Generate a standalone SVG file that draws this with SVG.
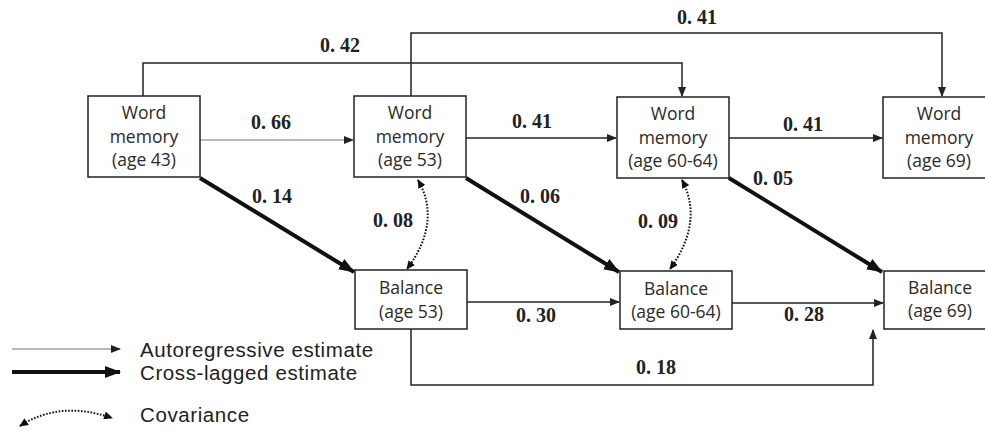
<svg xmlns="http://www.w3.org/2000/svg" width="985" height="431" viewBox="0 0 985 431">
<style>
.box{fill:#fff;stroke:#222;stroke-width:1.5}
.lbl{font-family:"Open Sans","Liberation Sans",sans-serif;font-size:17.5px;fill:#2a2a2a;text-anchor:middle}
.leg{font-family:"Liberation Sans",Arial,sans-serif;font-size:20.5px;letter-spacing:0.6px;fill:#222}
.num{font-family:"Liberation Serif","Times New Roman",serif;font-size:20px;font-weight:bold;fill:#222;text-anchor:middle}
.auto{fill:none;stroke:#222;stroke-width:1.5}
.autog{fill:none;stroke:#777;stroke-width:1.2}
.cross{fill:none;stroke:#111;stroke-width:4}
.cov{fill:none;stroke:#111;stroke-width:2;stroke-dasharray:1.6 1.6}
</style>
<defs>
<marker id="a" markerUnits="userSpaceOnUse" markerWidth="10" markerHeight="8" refX="9" refY="4" orient="auto"><path d="M0,0 L10,4 L0,8 z" fill="#222"/></marker>
<marker id="ac" markerUnits="userSpaceOnUse" markerWidth="16" markerHeight="12" refX="15" refY="6" orient="auto"><path d="M0,0 L16,6 L0,12 z" fill="#111"/></marker>
<marker id="ad" markerUnits="userSpaceOnUse" markerWidth="9" markerHeight="8" refX="8" refY="4" orient="auto-start-reverse"><path d="M0,0 L9,4 L0,8 z" fill="#111"/></marker>
</defs>
<g id="connectors">
<path class="auto" d="M143,96 V63 H682 V96" marker-end="url(#a)"/>
<path class="auto" d="M411,96 V33 H942 V96" marker-end="url(#a)"/>
<path class="autog" d="M200,140 H353" marker-end="url(#a)"/>
<path class="auto" d="M466,138 H616" marker-end="url(#a)"/>
<path class="auto" d="M729,138 H882" marker-end="url(#a)"/>
<path class="auto" d="M467,302 H619" marker-end="url(#a)"/>
<path class="auto" d="M732,303 H883" marker-end="url(#a)"/>
<path class="auto" d="M411,329 V385 H873 V330" marker-end="url(#a)"/>
<path class="cross" d="M200,178 L354,272" marker-end="url(#ac)"/>
<path class="cross" d="M466,178 L619,272" marker-end="url(#ac)"/>
<path class="cross" d="M729,178 L882,272" marker-end="url(#ac)"/>
<path class="cov" d="M418,180 Q442,222 407,269" marker-start="url(#ad)" marker-end="url(#ad)"/>
<path class="cov" d="M682,180 Q704,222 670,269" marker-start="url(#ad)" marker-end="url(#ad)"/>
<text class="num" x="340" y="52">0.<tspan dx="5">42</tspan></text>
<text class="num" x="697" y="24">0.<tspan dx="5">41</tspan></text>
<text class="num" x="271" y="129">0.<tspan dx="5">66</tspan></text>
<text class="num" x="532" y="128">0.<tspan dx="5">41</tspan></text>
<text class="num" x="803" y="131">0.<tspan dx="5">41</tspan></text>
<text class="num" x="773" y="185">0.<tspan dx="5">05</tspan></text>
<text class="num" x="272" y="203">0.<tspan dx="5">14</tspan></text>
<text class="num" x="393" y="227">0.<tspan dx="5">08</tspan></text>
<text class="num" x="540" y="203">0.<tspan dx="5">06</tspan></text>
<text class="num" x="658" y="228">0.<tspan dx="5">09</tspan></text>
<text class="num" x="536" y="322">0.<tspan dx="5">30</tspan></text>
<text class="num" x="804" y="321">0.<tspan dx="5">28</tspan></text>
<text class="num" x="656" y="374">0.<tspan dx="5">18</tspan></text>
</g>
<g id="wm43"><rect class="box" x="88" y="96" width="112" height="81"/><text class="lbl" x="144" y="119">Word</text><text class="lbl" x="144" y="143">memory</text><text class="lbl" x="144" y="166">(age 43)</text></g>
<g id="wm53"><rect class="box" x="354" y="96" width="112" height="81"/><text class="lbl" x="410" y="119">Word</text><text class="lbl" x="410" y="143">memory</text><text class="lbl" x="410" y="166">(age 53)</text></g>
<g id="wm6064"><rect class="box" x="617" y="97" width="112" height="81"/><text class="lbl" x="673" y="120">Word</text><text class="lbl" x="673" y="144">memory</text><text class="lbl" x="673" y="167">(age 60-64)</text></g>
<g id="wm69"><rect class="box" x="883" y="97" width="112" height="81"/><text class="lbl" x="939" y="120">Word</text><text class="lbl" x="939" y="144">memory</text><text class="lbl" x="939" y="167">(age 69)</text></g>
<g id="bal53"><rect class="box" x="355" y="270" width="112" height="59"/><text class="lbl" x="411" y="294">Balance</text><text class="lbl" x="411" y="318">(age 53)</text></g>
<g id="bal6064"><rect class="box" x="620" y="271" width="112" height="58"/><text class="lbl" x="676" y="295">Balance</text><text class="lbl" x="676" y="318">(age 60-64)</text></g>
<g id="bal69"><rect class="box" x="884" y="271" width="112" height="58"/><text class="lbl" x="940" y="294">Balance</text><text class="lbl" x="940" y="317">(age 69)</text></g>
<g id="legend">
<path class="autog" d="M12,349 H120" marker-end="url(#a)"/>
<path d="M12,372 H120" stroke="#111" stroke-width="4" fill="none" marker-end="url(#ac)"/>
<path class="cov" d="M20,426 Q60,400 112,418" marker-start="url(#ad)" marker-end="url(#ad)"/>
<text class="leg" x="140" y="357">Autoregressive estimate</text>
<text class="leg" x="140" y="380">Cross-lagged estimate</text>
<text class="leg" x="140" y="422">Covariance</text>
</g>
</svg>
